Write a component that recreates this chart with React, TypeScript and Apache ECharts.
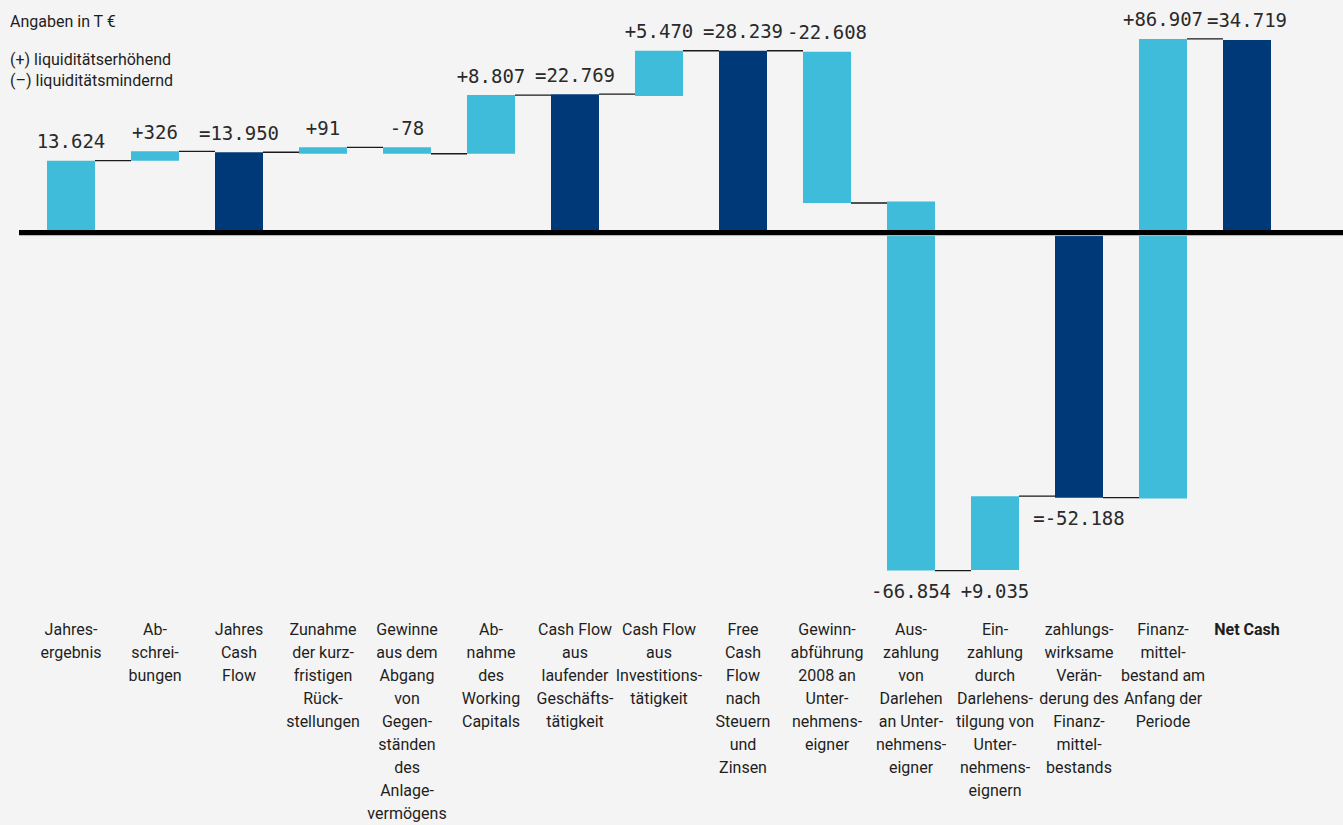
import React, { useEffect, useRef } from "react";
import * as echarts from "echarts";

const categories = [
  "Jahres-\nergebnis",
  "Ab-\nschrei-\nbungen",
  "Jahres\nCash\nFlow",
  "Zunahme\nder kurz-\nfristigen\nRück-\nstellungen",
  "Gewinne\naus dem\nAbgang\nvon\nGegen-\nständen\ndes\nAnlage-\nvermögens",
  "Ab-\nnahme\ndes\nWorking\nCapitals",
  "Cash Flow\naus\nlaufender\nGeschäfts-\ntätigkeit",
  "Cash Flow\naus\nInvestitions-\ntätigkeit",
  "Free\nCash\nFlow\nnach\nSteuern\nund\nZinsen",
  "Gewinn-\nabführung\n2008 an\nUnter-\nnehmens-\neigner",
  "Aus-\nzahlung\nvon\nDarlehen\nan Unter-\nnehmens-\neigner",
  "Ein-\nzahlung\ndurch\nDarlehens-\ntilgung von\nUnter-\nnehmens-\neignern",
  "zahlungs-\nwirksame\nVerän-\nderung des\nFinanz-\nmittel-\nbestands",
  "Finanz-\nmittel-\nbestand am\nAnfang der\nPeriode",
  "Net Cash",
];

const valueLabels = [
  "13.624", "+326", "=13.950", "+91", "-78", "+8.807", "=22.769", "+5.470",
  "=28.239", "-22.608", "-66.854", "+9.035", "=-52.188", "+86.907", "=34.719",
];

const isTotal = [false, false, true, false, false, false, true, false, true, false, false, false, true, false, true];

// The original artwork is not drawn to scale: these are the bar ends as drawn (T€ on the drawing scale)
const drawnStart = [0, 10950, 0, 12000, 12975, 12000, 0, 20775, 0, 27525, 4725, -51375, 0, -40500, 0];
const drawnEnd = [10950, 12375, 12225, 12975, 12000, 20925, 21075, 27675, 27675, 4500, -51450, -40125, -40350, 29475, 29325];

const headerLines = ["Angaben in T €", "(+) liquiditätserhöhend", "(–) liquiditätsmindernd"];

const LIGHT = "#3ebcda";
const DARK = "#003977";
const TEXT = "#1e1e1e";

export default function App() {
  const ref = useRef<HTMLDivElement>(null);

  useEffect(() => {
    if (!ref.current) return;
    const chart = echarts.init(ref.current, null, { renderer: "svg" });
    const n = categories.length;
    const barData = categories.map((_, i) => [i, drawnStart[i], drawnEnd[i], isTotal[i] ? 1 : 0]);

    chart.setOption({
      animation: false,
      backgroundColor: "#f4f4f4",
      grid: { left: 29, right: 54, top: 35.5, height: 580, containLabel: false },
      xAxis: {
        type: "category",
        data: categories.map((c, i) =>
          i === n - 1 ? { value: c, textStyle: { fontWeight: "bold" } } : c
        ),
        position: "bottom",
        axisLine: { show: false, onZero: false },
        axisTick: { show: false },
        splitLine: { show: false },
        axisLabel: {
          interval: 0,
          margin: 11,
          fontFamily: "Roboto",
          fontSize: 16,
          lineHeight: 23,
          color: TEXT,
          verticalAlign: "top",
        },
      },
      yAxis: {
        type: "value",
        min: -57000,
        max: 30000,
        show: false,
        splitLine: { show: false },
      },
      graphic: headerLines.map((t, i) => ({
        type: "text",
        left: 10,
        top: i === 0 ? 13 : 51 + (i - 1) * 21.5,
        style: { text: t, fontFamily: "Roboto", fontSize: 16, fill: TEXT },
      })),
      series: [
        {
          type: "custom",
          clip: false,
          encode: { x: 0, y: [1, 2] },
          data: barData,
          renderItem: (params: any, api: any) => {
            const i = api.value(0);
            const s = api.value(1);
            const e = api.value(2);
            const total = api.value(3) === 1;
            const p0 = api.coord([i, s]);
            const p1 = api.coord([i, e]);
            const bw = 48;
            const yTop = Math.min(p0[1], p1[1]);
            const yBot = Math.max(p0[1], p1[1]);
            const children: any[] = [
              {
                type: "rect",
                shape: { x: p0[0] - bw / 2, y: yTop, width: bw, height: yBot - yTop },
                style: { fill: total ? DARK : LIGHT },
              },
            ];
            if (i < n - 1) {
              const pn = api.coord([i + 1, e]);
              children.push({
                type: "line",
                shape: { x1: p0[0] + bw / 2, y1: p1[1], x2: pn[0] - bw / 2, y2: p1[1] },
                style: { stroke: "#1a1a1a", lineWidth: 1.3 },
              });
            }
            const below = e < 0;
            children.push({
              type: "text",
              style: {
                text: valueLabels[i],
                x: p0[0],
                y: below ? yBot + 11 : yTop - 10,
                align: "center",
                verticalAlign: below ? "top" : "bottom",
                fontFamily: "DejaVu Sans Mono",
                fontSize: 19,
                fill: "#2a2a2a",
              },
            });
            return { type: "group", children };
          },
          z: 2,
        },
        {
          type: "custom",
          clip: false,
          data: [[0, 0]],
          encode: { x: 0, y: 1 },
          renderItem: (params: any, api: any) => {
            const y = api.coord([0, 0])[1];
            return {
              type: "group",
              children: [
                {
                  type: "line",
                  shape: { x1: 19, y1: y + 3, x2: 1343, y2: y + 3 },
                  style: { stroke: "#b5b5b5", lineWidth: 1 },
                },
                {
                  type: "line",
                  shape: { x1: 19, y1: y, x2: 1343, y2: y },
                  style: { stroke: "#000", lineWidth: 5 },
                },
              ],
            };
          },
          z: 5,
        },
      ],
    });

    return () => chart.dispose();
  }, []);

  return (
    <div
      ref={ref}
      style={{ position: "absolute", left: 0, top: 0, width: 1343, height: 825, background: "#f4f4f4" }}
    />
  );
}
